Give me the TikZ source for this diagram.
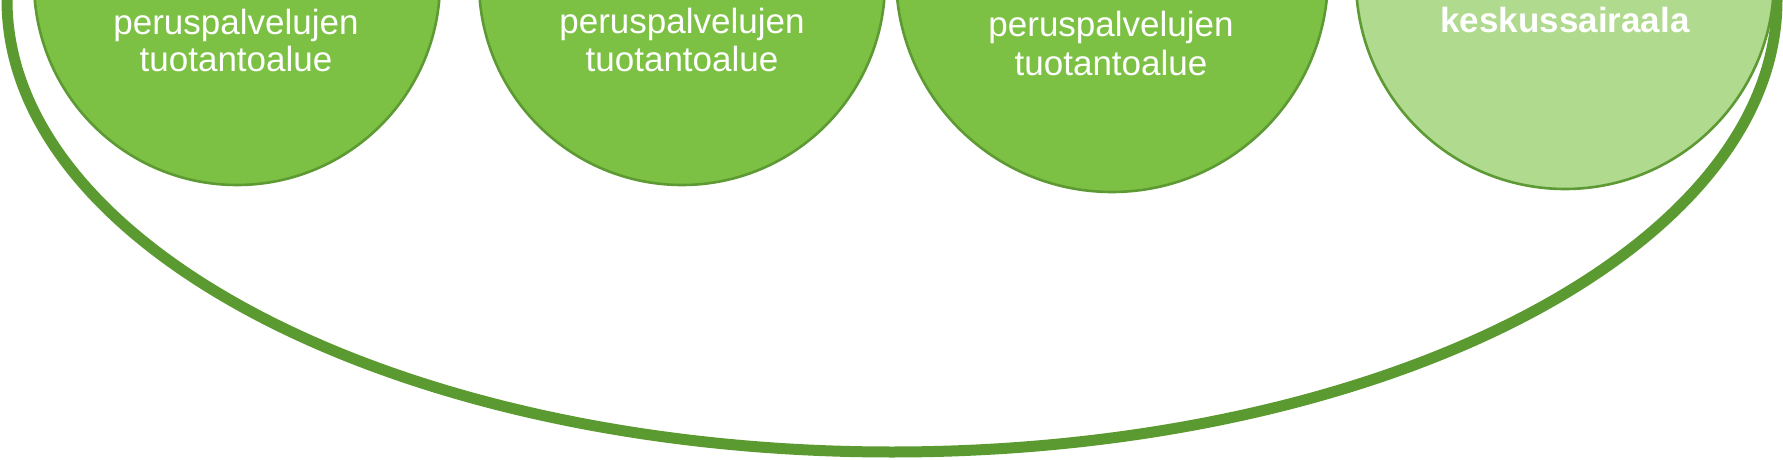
\documentclass[tikz,border=0pt]{standalone}
\usepackage{fontspec}
\setmainfont{Liberation Sans}
\definecolor{ringgreen}{HTML}{5B9A30}
\definecolor{edgegreen}{HTML}{5E9A34}
\definecolor{midgreen}{HTML}{7CC143}
\definecolor{lightgreen}{HTML}{B0DA8E}
\tikzset{
  ring/.style={draw=ringgreen, line width=11pt},
  unitcircle/.style={circle, draw=edgegreen, line width=2.6pt, fill=midgreen, inner sep=0pt},
  hospital/.style={circle, draw=edgegreen, line width=2.6pt, fill=lightgreen, inner sep=0pt},
  label/.style={anchor=base, text=white, inner sep=0pt, font=\fontsize{35}{37}\selectfont},
  boldlabel/.style={label, font=\fontsize{35}{37}\selectfont\bfseries}
}
\begin{document}
\begin{tikzpicture}[x=1pt,y=-1pt]
\useasboundingbox (0,0) rectangle (1783,460);
\clip (0,0) rectangle (1783,460);
\fill[white] (0,0) rectangle (1783,460);
% outer ring
\draw[ring] (892,0) ellipse [x radius=885pt, y radius=452pt];
% circles
\node[unitcircle, minimum size=406pt] (c1) at (237,-18) {};
\node[unitcircle, minimum size=406pt] (c2) at (682,-18) {};
\node[unitcircle, minimum size=432pt] (c3) at (1112,-24) {};
\node[hospital, minimum size=418pt] (c4) at (1565,-20) {};
% texts
\node[label] (t1a) at (236,35) {peruspalvelujen};
\node[label] (t1b) at (236,72) {tuotantoalue};
\node[label] (t2a) at (682,34) {peruspalvelujen};
\node[label] (t2b) at (682,72) {tuotantoalue};
\node[label] (t3a) at (1111,37) {peruspalvelujen};
\node[label] (t3b) at (1111,75) {tuotantoalue};
\node[boldlabel] (t4a) at (1565,33) {keskussairaala};
\end{tikzpicture}
\end{document}
